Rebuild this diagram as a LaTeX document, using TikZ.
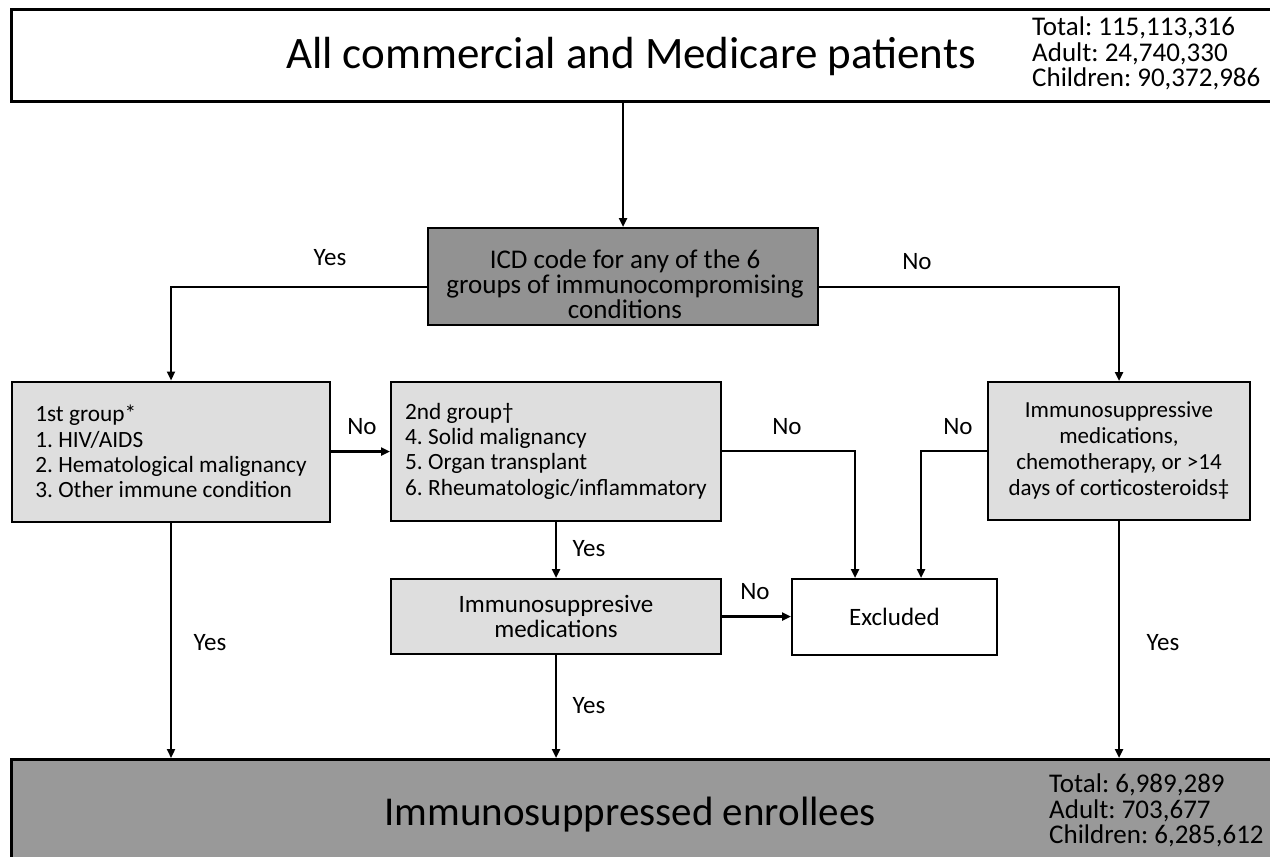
\documentclass[tikz,border=0pt]{standalone}
\usepackage{fontspec}
\setmainfont{Carlito}
\usetikzlibrary{arrows.meta}
\definecolor{lightbox}{HTML}{DEDEDE}
\definecolor{darkbox}{HTML}{999999}
\definecolor{icdbox}{HTML}{929292}
\begin{document}
\lineskiplimit=-100pt
\frenchspacing
\begin{tikzpicture}[x=1pt,y=-1pt,
  box/.style={draw=black, line width=2pt, inner sep=0pt, align=center},
  conn/.style={line width=2.6pt},
  arr/.style={conn, -{Triangle[length=9pt,width=8pt]}},
  lbl/.style={font=\fontsize{25}{28}\selectfont, inner sep=0pt},
  txt/.style={inner sep=0pt},
]
\useasboundingbox (0,0) rectangle (1270,857);
\clip (0,0) rectangle (1270,857);
\fill[white] (0,0) rectangle (1270,857);

% top and bottom bands
\node[box, fill=white, line width=2.5pt, minimum width=1275, minimum height=92, anchor=north west] (top) at (10,8) {};
\node[txt, anchor=base, font=\fontsize{45}{54}\selectfont] (toptitle) at (631,68) {All commercial and Medicare patients};
\node[txt, anchor=north west, align=left, font=\fontsize{27}{25.5}\selectfont] (topstats) at (1032,17) {Total: 115,113,316\\Adult: 24,740,330\\Children: 90,372,986};

\node[box, fill=darkbox, line width=2.5pt, minimum width=1275, minimum height=110, anchor=north west] (bot) at (10,758) {};
\node[txt, anchor=base, font=\fontsize{41}{50}\selectfont] (bottitle) at (630,825) {Immunosuppressed enrollees};
\node[txt, anchor=north west, align=left, font=\fontsize{27}{25.5}\selectfont] (botstats) at (1049,774) {Total: 6,989,289\\Adult: 703,677\\Children: 6,285,612};

% decision box
\node[box, fill=icdbox, minimum width=390, minimum height=97] (icd) at (623,276.5) {};
\node[txt, anchor=north, align=center, font=\fontsize{27}{25}\selectfont] (icdtxt) at (625,250) {ICD code for any of the 6\\groups of immunocompromising\\conditions};

% group boxes
\node[box, fill=lightbox, minimum width=318, minimum height=140, align=left, font=\fontsize{23.3}{25.3}\selectfont] (g1) at (171,451.5) {1st group*\\1. HIV/AIDS\\2. Hematological malignancy\\3. Other immune condition};
\node[box, fill=lightbox, minimum width=330, minimum height=139, align=left, font=\fontsize{23.3}{25.3}\selectfont] (g2) at (556,451) {2nd group†\\4. Solid malignancy\\5. Organ transplant\\6. Rheumatologic/inflammatory};
\node[box, fill=lightbox, minimum width=262, minimum height=138, align=center, font=\fontsize{23}{26}\selectfont] (rbox) at (1119,451) {Immunosuppressive\\medications,\\chemotherapy, or >14\\days of corticosteroids‡};
\node[box, fill=lightbox, minimum width=330, minimum height=75, align=center, font=\fontsize{25}{25}\selectfont] (imm) at (556,616.5) {Immunosuppresive\\medications};
\node[box, fill=white, minimum width=205, minimum height=76, font=\fontsize{25}{25}\selectfont] (excl) at (894.5,617) {Excluded};

% connectors
\draw[arr] (top.south -| icd.north) -- (icd.north);
\draw[arr] ([yshift=-10.5pt]icd.west) -| (g1.north);
\draw[arr] ([yshift=-10.5pt]icd.east) -| (rbox.north);
\draw[arr] (g1.east) -- (g1.east -| g2.west);
\draw[arr] (g2.east) -| ([xshift=64pt]excl.north west);
\draw[arr] (rbox.west) -| ([xshift=130pt]excl.north west);
\draw[arr] (g2.south) -- (imm.north);
\draw[arr] (imm.east) -- (imm.east -| excl.west);
\draw[arr] (g1.south) -- (g1.south |- bot.north);
\draw[arr] (imm.south) -- (imm.south |- bot.north);
\draw[arr] (rbox.south) -- (rbox.south |- bot.north);

% labels
\node[lbl] (l1) at (330,258) {Yes};
\node[lbl] (l2) at (917,262) {No};
\node[lbl] (l3) at (362,427) {No};
\node[lbl] (l4) at (787,427) {No};
\node[lbl] (l5) at (958,427) {No};
\node[lbl] (l6) at (589,549) {Yes};
\node[lbl] (l7) at (755,592) {No};
\node[lbl] (l8) at (210,643) {Yes};
\node[lbl] (l9) at (589,706) {Yes};
\node[lbl] (l10) at (1163,643) {Yes};
\end{tikzpicture}
\end{document}
